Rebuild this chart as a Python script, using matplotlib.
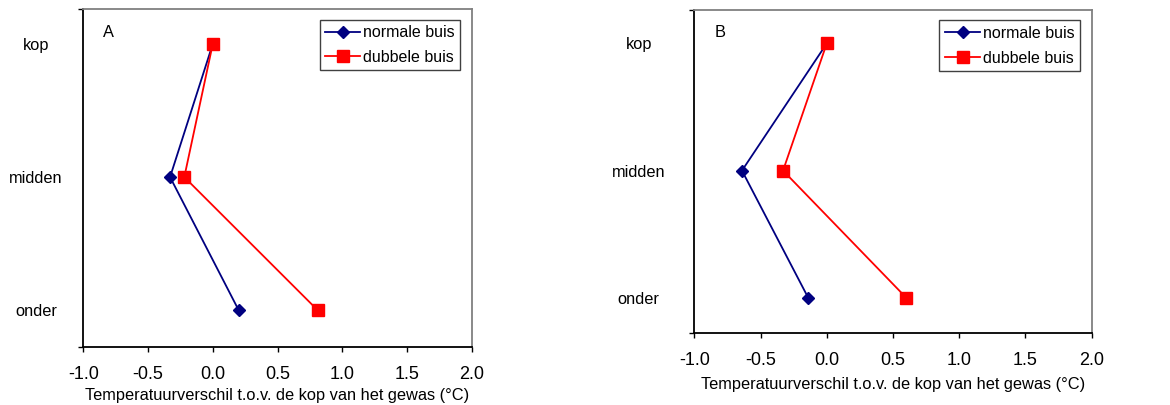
import numpy as np
import matplotlib.pyplot as plt

plt.rcParams['font.family'] = ['Liberation Sans', 'DejaVu Sans']
plt.rcParams['font.size'] = 11.8

levels = ['onder', 'midden', 'kop']
level_pos = [1, 2, 3]

# panel A
a_normaal = [0.20, -0.33, 0.0]
a_dubbel = [0.81, -0.22, 0.0]
# panel B
b_normaal = [-0.14, -0.64, 0.0]
b_dubbel = [0.60, -0.33, 0.0]

x_ticks = [-1.0, -0.5, 0.0, 0.5, 1.0, 1.5, 2.0]
xlabel = 'Temperatuurverschil t.o.v. de kop van het gewas (°C)'

fig = plt.figure(figsize=(11.7, 4.05), dpi=100)
axA = fig.add_axes([0.0712, 0.143, 0.332, 0.835])
axB = fig.add_axes([0.5934, 0.1778, 0.3397, 0.7975])


def draw(ax, normaal, dubbel, letter, label_pad, xlab_pad):
    ax.plot(normaal, level_pos, color='#000080', marker='D', markersize=6.5,
            linewidth=1.3, label='normale buis')
    ax.plot(dubbel, level_pos, color='#ff0000', marker='s', markersize=8,
            linewidth=1.3, label='dubbele buis')
    ax.set_xlim(-1, 2)
    ax.set_ylim(0.723, 3.263)
    ax.set_xticks(x_ticks, [f'{v:.1f}' for v in x_ticks])
    ax.set_yticks(level_pos, levels)
    ax.set_yticks([0.723, 3.263], minor=True)
    ax.tick_params(axis='y', which='major', length=0, pad=label_pad)
    ax.tick_params(axis='y', which='minor', length=3.6, width=1)
    ax.tick_params(axis='x', length=3.6, width=1, pad=10, labelsize=13)
    for lab in ax.get_yticklabels():
        lab.set_ha('center')
    ax.set_xlabel(xlabel, labelpad=xlab_pad)
    for s in ['top', 'right']:
        ax.spines[s].set_color('#808080')
        ax.spines[s].set_linewidth(1.3)
    for s in ['left', 'bottom']:
        ax.spines[s].set_linewidth(1.3)
    ax.text(0.05, 0.93, letter, transform=ax.transAxes, ha='left', va='center')
    leg = ax.legend(loc='upper right', bbox_to_anchor=(0.97, 0.968),
                    fancybox=False, edgecolor='#404040', framealpha=1,
                    borderpad=0.35, labelspacing=0.6, handletextpad=0.15,
                    handlelength=2.2, borderaxespad=0, fontsize=11.5)
    leg.get_frame().set_linewidth(1.0)


draw(axA, a_normaal, a_dubbel, 'A', 34, 3.3)
draw(axB, b_normaal, b_dubbel, 'B', 40, 6)

fig.savefig('out.png', dpi=100)
